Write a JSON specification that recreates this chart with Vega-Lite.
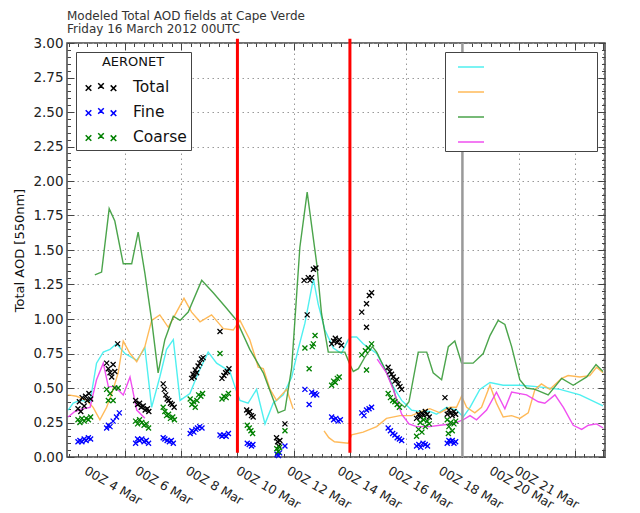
{
  "$schema": "https://vega.github.io/schema/vega-lite/v6.json",
  "description": "Modeled total AOD at Cape Verde with AERONET observations",
  "width": 538,
  "height": 414,
  "autosize": {"type": "none"},
  "padding": {"left": 67, "top": 43, "right": 35, "bottom": 56},
  "background": "white",
  "config": {
    "font": "DejaVu Sans",
    "view": {"stroke": "#444", "strokeWidth": 1.5},
    "axis": {"domain": false, "tickColor": "#444", "labelColor": "#222", "labelFont": "DejaVu Sans", "titleFont": "DejaVu Sans"}
  },
  "title": {
    "text": ["Modeled Total AOD fields at Cape Verde", "Friday 16 March 2012 00UTC"],
    "anchor": "start",
    "frame": "group",
    "fontSize": 12,
    "fontWeight": "normal",
    "lineHeight": 13.5,
    "color": "#333",
    "offset": 0
  },
  "datasets": {
    "models": [
      {"m": "Model 1", "s": "a", "d": 1.98, "v": 0.34}, {"m": "Model 1", "s": "a", "d": 2.16, "v": 0.39},
      {"m": "Model 1", "s": "a", "d": 2.4, "v": 0.41}, {"m": "Model 1", "s": "a", "d": 2.76, "v": 0.40},
      {"m": "Model 1", "s": "a", "d": 2.99, "v": 0.68}, {"m": "Model 1", "s": "a", "d": 3.23, "v": 0.76},
      {"m": "Model 1", "s": "a", "d": 3.47, "v": 0.78}, {"m": "Model 1", "s": "a", "d": 3.70, "v": 0.82},
      {"m": "Model 1", "s": "a", "d": 4.0, "v": 0.75}, {"m": "Model 1", "s": "a", "d": 4.42, "v": 0.70},
      {"m": "Model 1", "s": "a", "d": 4.71, "v": 0.79}, {"m": "Model 1", "s": "a", "d": 4.95, "v": 0.36},
      {"m": "Model 1", "s": "a", "d": 5.24, "v": 0.58}, {"m": "Model 1", "s": "a", "d": 5.48, "v": 0.78},
      {"m": "Model 1", "s": "a", "d": 5.72, "v": 0.85}, {"m": "Model 1", "s": "a", "d": 5.96, "v": 0.41},
      {"m": "Model 1", "s": "a", "d": 6.31, "v": 0.46}, {"m": "Model 1", "s": "a", "d": 6.61, "v": 0.61},
      {"m": "Model 1", "s": "a", "d": 6.96, "v": 0.76}, {"m": "Model 1", "s": "a", "d": 7.26, "v": 0.68},
      {"m": "Model 1", "s": "a", "d": 7.50, "v": 0.65}, {"m": "Model 1", "s": "a", "d": 7.73, "v": 0.62},
      {"m": "Model 1", "s": "a", "d": 7.91, "v": 0.51}, {"m": "Model 1", "s": "a", "d": 8.09, "v": 0.41},
      {"m": "Model 1", "s": "a", "d": 8.38, "v": 0.39}, {"m": "Model 1", "s": "a", "d": 8.68, "v": 0.49},
      {"m": "Model 1", "s": "a", "d": 8.98, "v": 0.24}, {"m": "Model 1", "s": "a", "d": 9.27, "v": 0.39},
      {"m": "Model 1", "s": "a", "d": 9.63, "v": 0.45}, {"m": "Model 1", "s": "a", "d": 9.93, "v": 0.58},
      {"m": "Model 1", "s": "a", "d": 10.16, "v": 0.78}, {"m": "Model 1", "s": "a", "d": 10.4, "v": 0.97},
      {"m": "Model 1", "s": "a", "d": 10.70, "v": 1.29}, {"m": "Model 1", "s": "a", "d": 10.87, "v": 1.11},
      {"m": "Model 1", "s": "a", "d": 11.11, "v": 0.92}, {"m": "Model 1", "s": "a", "d": 11.41, "v": 0.79},
      {"m": "Model 1", "s": "a", "d": 11.70, "v": 0.75}, {"m": "Model 1", "s": "a", "d": 11.94, "v": 0.85},
      {"m": "Model 1", "s": "a", "d": 12.06, "v": 0.87}, {"m": "Model 1", "s": "a", "d": 12.24, "v": 0.87},
      {"m": "Model 1", "s": "a", "d": 12.47, "v": 0.82}, {"m": "Model 1", "s": "a", "d": 12.95, "v": 0.75},
      {"m": "Model 1", "s": "a", "d": 13.24, "v": 0.64}, {"m": "Model 1", "s": "a", "d": 13.54, "v": 0.51},
      {"m": "Model 1", "s": "a", "d": 13.84, "v": 0.41}, {"m": "Model 1", "s": "a", "d": 14.19, "v": 0.34},
      {"m": "Model 1", "s": "a", "d": 14.49, "v": 0.33}, {"m": "Model 1", "s": "a", "d": 14.84, "v": 0.33},
      {"m": "Model 1", "s": "a", "d": 15.08, "v": 0.31}, {"m": "Model 1", "s": "a", "d": 15.44, "v": 0.36},
      {"m": "Model 1", "s": "a", "d": 15.79, "v": 0.34}, {"m": "Model 1", "s": "a", "d": 16.03, "v": 0.29},
      {"m": "Model 1", "s": "a", "d": 16.27, "v": 0.36}, {"m": "Model 1", "s": "a", "d": 16.62, "v": 0.49},
      {"m": "Model 1", "s": "a", "d": 16.98, "v": 0.54}, {"m": "Model 1", "s": "a", "d": 17.45, "v": 0.52},
      {"m": "Model 1", "s": "a", "d": 18.04, "v": 0.52}, {"m": "Model 1", "s": "a", "d": 18.64, "v": 0.51},
      {"m": "Model 1", "s": "a", "d": 19.47, "v": 0.49}, {"m": "Model 1", "s": "a", "d": 20.18, "v": 0.45},
      {"m": "Model 1", "s": "a", "d": 21.0, "v": 0.37},

      {"m": "Model 2", "s": "a", "d": 1.98, "v": 0.45}, {"m": "Model 2", "s": "a", "d": 2.28, "v": 0.44},
      {"m": "Model 2", "s": "a", "d": 2.64, "v": 0.41}, {"m": "Model 2", "s": "a", "d": 2.87, "v": 0.36},
      {"m": "Model 2", "s": "a", "d": 3.11, "v": 0.27}, {"m": "Model 2", "s": "a", "d": 3.35, "v": 0.36},
      {"m": "Model 2", "s": "a", "d": 3.58, "v": 0.49}, {"m": "Model 2", "s": "a", "d": 3.76, "v": 0.61},
      {"m": "Model 2", "s": "a", "d": 3.94, "v": 0.84}, {"m": "Model 2", "s": "a", "d": 4.18, "v": 0.75},
      {"m": "Model 2", "s": "a", "d": 4.42, "v": 0.69}, {"m": "Model 2", "s": "a", "d": 4.71, "v": 0.80},
      {"m": "Model 2", "s": "a", "d": 4.95, "v": 0.99}, {"m": "Model 2", "s": "a", "d": 5.24, "v": 1.03},
      {"m": "Model 2", "s": "a", "d": 5.54, "v": 0.94}, {"m": "Model 2", "s": "a", "d": 5.78, "v": 1.03},
      {"m": "Model 2", "s": "a", "d": 6.10, "v": 1.15}, {"m": "Model 2", "s": "a", "d": 6.37, "v": 1.05},
      {"m": "Model 2", "s": "a", "d": 6.67, "v": 0.98}, {"m": "Model 2", "s": "a", "d": 7.08, "v": 1.03},
      {"m": "Model 2", "s": "a", "d": 7.50, "v": 0.93}, {"m": "Model 2", "s": "a", "d": 7.85, "v": 0.92},
      {"m": "Model 2", "s": "a", "d": 8.09, "v": 0.99}, {"m": "Model 2", "s": "a", "d": 8.44, "v": 0.85},
      {"m": "Model 2", "s": "a", "d": 8.74, "v": 0.65}, {"m": "Model 2", "s": "a", "d": 8.92, "v": 0.64},
      {"m": "Model 2", "s": "a", "d": 9.16, "v": 0.49}, {"m": "Model 2", "s": "a", "d": 9.39, "v": 0.41},
      {"m": "Model 2", "s": "a", "d": 9.75, "v": 0.49}, {"m": "Model 2", "s": "a", "d": 9.98, "v": 0.35},
      {"m": "Model 2", "s": "b", "d": 11.08, "v": 0.19}, {"m": "Model 2", "s": "b", "d": 11.25, "v": 0.14},
      {"m": "Model 2", "s": "b", "d": 11.45, "v": 0.11}, {"m": "Model 2", "s": "b", "d": 11.94, "v": 0.10},
      {"m": "Model 2", "s": "b", "d": 12.06, "v": 0.16}, {"m": "Model 2", "s": "b", "d": 12.47, "v": 0.18},
      {"m": "Model 2", "s": "b", "d": 12.95, "v": 0.22}, {"m": "Model 2", "s": "b", "d": 13.30, "v": 0.28},
      {"m": "Model 2", "s": "b", "d": 13.78, "v": 0.30}, {"m": "Model 2", "s": "b", "d": 14.19, "v": 0.30},
      {"m": "Model 2", "s": "b", "d": 14.55, "v": 0.33}, {"m": "Model 2", "s": "b", "d": 14.84, "v": 0.35},
      {"m": "Model 2", "s": "b", "d": 15.2, "v": 0.32}, {"m": "Model 2", "s": "b", "d": 15.56, "v": 0.36},
      {"m": "Model 2", "s": "b", "d": 15.79, "v": 0.36}, {"m": "Model 2", "s": "b", "d": 15.97, "v": 0.44},
      {"m": "Model 2", "s": "b", "d": 16.15, "v": 0.36}, {"m": "Model 2", "s": "b", "d": 16.44, "v": 0.32},
      {"m": "Model 2", "s": "b", "d": 16.68, "v": 0.36}, {"m": "Model 2", "s": "b", "d": 16.98, "v": 0.52},
      {"m": "Model 2", "s": "b", "d": 17.21, "v": 0.39}, {"m": "Model 2", "s": "b", "d": 17.45, "v": 0.29},
      {"m": "Model 2", "s": "b", "d": 17.75, "v": 0.30}, {"m": "Model 2", "s": "b", "d": 18.04, "v": 0.28},
      {"m": "Model 2", "s": "b", "d": 18.34, "v": 0.32}, {"m": "Model 2", "s": "b", "d": 18.58, "v": 0.49},
      {"m": "Model 2", "s": "b", "d": 18.81, "v": 0.53}, {"m": "Model 2", "s": "b", "d": 19.11, "v": 0.49},
      {"m": "Model 2", "s": "b", "d": 19.53, "v": 0.57}, {"m": "Model 2", "s": "b", "d": 19.76, "v": 0.59},
      {"m": "Model 2", "s": "b", "d": 20.18, "v": 0.58}, {"m": "Model 2", "s": "b", "d": 20.53, "v": 0.59},
      {"m": "Model 2", "s": "b", "d": 20.77, "v": 0.65}, {"m": "Model 2", "s": "b", "d": 21.0, "v": 0.61},

      {"m": "Model 3", "s": "a", "d": 2.93, "v": 1.32}, {"m": "Model 3", "s": "a", "d": 3.17, "v": 1.34},
      {"m": "Model 3", "s": "a", "d": 3.44, "v": 1.80}, {"m": "Model 3", "s": "a", "d": 3.64, "v": 1.71},
      {"m": "Model 3", "s": "a", "d": 3.94, "v": 1.40}, {"m": "Model 3", "s": "a", "d": 4.24, "v": 1.40},
      {"m": "Model 3", "s": "a", "d": 4.47, "v": 1.63}, {"m": "Model 3", "s": "a", "d": 4.71, "v": 1.33},
      {"m": "Model 3", "s": "a", "d": 4.95, "v": 0.99}, {"m": "Model 3", "s": "a", "d": 5.18, "v": 0.61},
      {"m": "Model 3", "s": "a", "d": 5.42, "v": 0.85}, {"m": "Model 3", "s": "a", "d": 5.72, "v": 1.02},
      {"m": "Model 3", "s": "a", "d": 5.96, "v": 0.99}, {"m": "Model 3", "s": "a", "d": 6.25, "v": 1.05},
      {"m": "Model 3", "s": "a", "d": 6.73, "v": 1.28}, {"m": "Model 3", "s": "a", "d": 7.14, "v": 1.19},
      {"m": "Model 3", "s": "a", "d": 7.56, "v": 1.09}, {"m": "Model 3", "s": "a", "d": 7.85, "v": 1.02},
      {"m": "Model 3", "s": "a", "d": 7.97, "v": 0.99}, {"m": "Model 3", "s": "a", "d": 8.44, "v": 0.78},
      {"m": "Model 3", "s": "a", "d": 8.92, "v": 0.61}, {"m": "Model 3", "s": "a", "d": 9.45, "v": 0.32},
      {"m": "Model 3", "s": "a", "d": 9.69, "v": 0.34}, {"m": "Model 3", "s": "a", "d": 9.93, "v": 0.65},
      {"m": "Model 3", "s": "a", "d": 10.22, "v": 1.52}, {"m": "Model 3", "s": "a", "d": 10.48, "v": 1.92},
      {"m": "Model 3", "s": "a", "d": 10.82, "v": 1.40}, {"m": "Model 3", "s": "a", "d": 10.99, "v": 1.04},
      {"m": "Model 3", "s": "a", "d": 11.23, "v": 0.76}, {"m": "Model 3", "s": "a", "d": 11.82, "v": 0.76},
      {"m": "Model 3", "s": "a", "d": 12.0, "v": 0.67}, {"m": "Model 3", "s": "a", "d": 12.12, "v": 0.62},
      {"m": "Model 3", "s": "a", "d": 12.3, "v": 0.64}, {"m": "Model 3", "s": "a", "d": 12.55, "v": 0.73},
      {"m": "Model 3", "s": "a", "d": 12.8, "v": 0.80}, {"m": "Model 3", "s": "a", "d": 12.95, "v": 0.76},
      {"m": "Model 3", "s": "a", "d": 13.24, "v": 0.64}, {"m": "Model 3", "s": "a", "d": 13.54, "v": 0.50},
      {"m": "Model 3", "s": "a", "d": 13.66, "v": 0.41}, {"m": "Model 3", "s": "a", "d": 13.95, "v": 0.36},
      {"m": "Model 3", "s": "a", "d": 14.1, "v": 0.40}, {"m": "Model 3", "s": "a", "d": 14.43, "v": 0.76},
      {"m": "Model 3", "s": "a", "d": 14.73, "v": 0.76}, {"m": "Model 3", "s": "a", "d": 14.96, "v": 0.61},
      {"m": "Model 3", "s": "a", "d": 15.26, "v": 0.56}, {"m": "Model 3", "s": "a", "d": 15.5, "v": 0.80},
      {"m": "Model 3", "s": "a", "d": 15.73, "v": 0.84}, {"m": "Model 3", "s": "a", "d": 15.97, "v": 0.68},
      {"m": "Model 3", "s": "a", "d": 16.38, "v": 0.68}, {"m": "Model 3", "s": "a", "d": 16.74, "v": 0.75},
      {"m": "Model 3", "s": "a", "d": 16.98, "v": 0.88}, {"m": "Model 3", "s": "a", "d": 17.27, "v": 0.99},
      {"m": "Model 3", "s": "a", "d": 17.51, "v": 0.96}, {"m": "Model 3", "s": "a", "d": 17.75, "v": 0.80},
      {"m": "Model 3", "s": "a", "d": 18.04, "v": 0.56}, {"m": "Model 3", "s": "a", "d": 18.28, "v": 0.50},
      {"m": "Model 3", "s": "a", "d": 18.58, "v": 0.49}, {"m": "Model 3", "s": "a", "d": 19.05, "v": 0.45},
      {"m": "Model 3", "s": "a", "d": 19.53, "v": 0.57}, {"m": "Model 3", "s": "a", "d": 19.94, "v": 0.52},
      {"m": "Model 3", "s": "a", "d": 20.42, "v": 0.58}, {"m": "Model 3", "s": "a", "d": 20.75, "v": 0.67},
      {"m": "Model 3", "s": "a", "d": 21.0, "v": 0.62},

      {"m": "Model 4", "s": "a", "d": 1.98, "v": 0.29}, {"m": "Model 4", "s": "a", "d": 2.22, "v": 0.33},
      {"m": "Model 4", "s": "a", "d": 2.52, "v": 0.35}, {"m": "Model 4", "s": "a", "d": 2.76, "v": 0.36},
      {"m": "Model 4", "s": "a", "d": 2.99, "v": 0.56}, {"m": "Model 4", "s": "a", "d": 3.23, "v": 0.68},
      {"m": "Model 4", "s": "a", "d": 3.41, "v": 0.51}, {"m": "Model 4", "s": "a", "d": 3.64, "v": 0.51},
      {"m": "Model 4", "s": "a", "d": 3.94, "v": 0.45}, {"m": "Model 4", "s": "a", "d": 4.18, "v": 0.58},
      {"m": "Model 4", "s": "a", "d": 4.42, "v": 0.34}, {"m": "Model 4", "s": "a", "d": 4.71, "v": 0.28},
      {"m": "Model 4", "s": "b", "d": 12.97, "v": 0.71}, {"m": "Model 4", "s": "b", "d": 13.30, "v": 0.61},
      {"m": "Model 4", "s": "b", "d": 13.54, "v": 0.49}, {"m": "Model 4", "s": "b", "d": 13.84, "v": 0.31},
      {"m": "Model 4", "s": "b", "d": 14.1, "v": 0.24}, {"m": "Model 4", "s": "b", "d": 14.37, "v": 0.22},
      {"m": "Model 4", "s": "b", "d": 14.84, "v": 0.22}, {"m": "Model 4", "s": "b", "d": 15.2, "v": 0.23},
      {"m": "Model 4", "s": "b", "d": 15.67, "v": 0.24}, {"m": "Model 4", "s": "b", "d": 16.03, "v": 0.27},
      {"m": "Model 4", "s": "b", "d": 16.27, "v": 0.30}, {"m": "Model 4", "s": "b", "d": 16.5, "v": 0.27},
      {"m": "Model 4", "s": "b", "d": 16.86, "v": 0.34}, {"m": "Model 4", "s": "b", "d": 17.21, "v": 0.47},
      {"m": "Model 4", "s": "b", "d": 17.51, "v": 0.35}, {"m": "Model 4", "s": "b", "d": 17.75, "v": 0.47},
      {"m": "Model 4", "s": "b", "d": 18.28, "v": 0.45}, {"m": "Model 4", "s": "b", "d": 18.70, "v": 0.40},
      {"m": "Model 4", "s": "b", "d": 18.93, "v": 0.39}, {"m": "Model 4", "s": "b", "d": 19.29, "v": 0.45},
      {"m": "Model 4", "s": "b", "d": 19.59, "v": 0.36}, {"m": "Model 4", "s": "b", "d": 19.94, "v": 0.23},
      {"m": "Model 4", "s": "b", "d": 20.24, "v": 0.20}, {"m": "Model 4", "s": "b", "d": 20.48, "v": 0.23},
      {"m": "Model 4", "s": "b", "d": 20.77, "v": 0.24}, {"m": "Model 4", "s": "b", "d": 21.0, "v": 0.21}
    ],
    "aeronet": [
      {"k": "Total", "d": 2.33, "v": 0.35}, {"k": "Total", "d": 2.38, "v": 0.40}, {"k": "Total", "d": 2.43, "v": 0.33},
      {"k": "Total", "d": 2.48, "v": 0.43}, {"k": "Total", "d": 2.55, "v": 0.37}, {"k": "Total", "d": 2.60, "v": 0.44},
      {"k": "Total", "d": 2.66, "v": 0.41}, {"k": "Total", "d": 2.72, "v": 0.46}, {"k": "Total", "d": 2.78, "v": 0.42},
      {"k": "Total", "d": 3.35, "v": 0.68}, {"k": "Total", "d": 3.41, "v": 0.64}, {"k": "Total", "d": 3.47, "v": 0.61},
      {"k": "Total", "d": 3.53, "v": 0.58}, {"k": "Total", "d": 3.58, "v": 0.67}, {"k": "Total", "d": 3.64, "v": 0.62},
      {"k": "Total", "d": 3.74, "v": 0.82},
      {"k": "Total", "d": 4.38, "v": 0.41}, {"k": "Total", "d": 4.45, "v": 0.38}, {"k": "Total", "d": 4.52, "v": 0.39},
      {"k": "Total", "d": 4.58, "v": 0.36}, {"k": "Total", "d": 4.65, "v": 0.37}, {"k": "Total", "d": 4.72, "v": 0.34},
      {"k": "Total", "d": 4.80, "v": 0.35}, {"k": "Total", "d": 4.85, "v": 0.33},
      {"k": "Total", "d": 5.36, "v": 0.53}, {"k": "Total", "d": 5.40, "v": 0.49}, {"k": "Total", "d": 5.45, "v": 0.45},
      {"k": "Total", "d": 5.50, "v": 0.42}, {"k": "Total", "d": 5.56, "v": 0.41}, {"k": "Total", "d": 5.62, "v": 0.39},
      {"k": "Total", "d": 5.68, "v": 0.38}, {"k": "Total", "d": 5.75, "v": 0.36},
      {"k": "Total", "d": 6.37, "v": 0.57}, {"k": "Total", "d": 6.42, "v": 0.60}, {"k": "Total", "d": 6.46, "v": 0.58},
      {"k": "Total", "d": 6.50, "v": 0.63}, {"k": "Total", "d": 6.55, "v": 0.61}, {"k": "Total", "d": 6.60, "v": 0.66},
      {"k": "Total", "d": 6.66, "v": 0.68}, {"k": "Total", "d": 6.72, "v": 0.71}, {"k": "Total", "d": 6.78, "v": 0.72},
      {"k": "Total", "d": 7.38, "v": 0.91}, {"k": "Total", "d": 7.45, "v": 0.57}, {"k": "Total", "d": 7.52, "v": 0.59},
      {"k": "Total", "d": 7.58, "v": 0.61}, {"k": "Total", "d": 7.64, "v": 0.62}, {"k": "Total", "d": 7.70, "v": 0.64},
      {"k": "Total", "d": 8.33, "v": 0.34}, {"k": "Total", "d": 8.38, "v": 0.32}, {"k": "Total", "d": 8.44, "v": 0.33},
      {"k": "Total", "d": 8.50, "v": 0.30}, {"k": "Total", "d": 8.56, "v": 0.29},
      {"k": "Total", "d": 9.39, "v": 0.14}, {"k": "Total", "d": 9.43, "v": 0.11}, {"k": "Total", "d": 9.47, "v": 0.08},
      {"k": "Total", "d": 9.51, "v": 0.12}, {"k": "Total", "d": 9.69, "v": 0.24},
      {"k": "Total", "d": 10.37, "v": 1.28}, {"k": "Total", "d": 10.48, "v": 1.03}, {"k": "Total", "d": 10.52, "v": 1.30},
      {"k": "Total", "d": 10.58, "v": 1.28}, {"k": "Total", "d": 10.64, "v": 1.30}, {"k": "Total", "d": 10.70, "v": 1.36},
      {"k": "Total", "d": 10.79, "v": 1.37},
      {"k": "Total", "d": 11.35, "v": 0.82}, {"k": "Total", "d": 11.42, "v": 0.84}, {"k": "Total", "d": 11.48, "v": 0.86},
      {"k": "Total", "d": 11.55, "v": 0.83}, {"k": "Total", "d": 11.62, "v": 0.85}, {"k": "Total", "d": 11.70, "v": 0.81},
      {"k": "Total", "d": 12.42, "v": 1.05}, {"k": "Total", "d": 12.59, "v": 1.11}, {"k": "Total", "d": 12.69, "v": 1.17},
      {"k": "Total", "d": 12.77, "v": 1.19}, {"k": "Total", "d": 12.59, "v": 0.94},
      {"k": "Total", "d": 13.36, "v": 0.65}, {"k": "Total", "d": 13.42, "v": 0.62}, {"k": "Total", "d": 13.48, "v": 0.60},
      {"k": "Total", "d": 13.54, "v": 0.58}, {"k": "Total", "d": 13.60, "v": 0.55}, {"k": "Total", "d": 13.66, "v": 0.56},
      {"k": "Total", "d": 13.72, "v": 0.53}, {"k": "Total", "d": 13.78, "v": 0.51}, {"k": "Total", "d": 13.84, "v": 0.49},
      {"k": "Total", "d": 14.37, "v": 0.28}, {"k": "Total", "d": 14.44, "v": 0.31}, {"k": "Total", "d": 14.50, "v": 0.29},
      {"k": "Total", "d": 14.56, "v": 0.32}, {"k": "Total", "d": 14.62, "v": 0.30}, {"k": "Total", "d": 14.68, "v": 0.33},
      {"k": "Total", "d": 14.75, "v": 0.31}, {"k": "Total", "d": 14.82, "v": 0.29},
      {"k": "Total", "d": 15.38, "v": 0.43}, {"k": "Total", "d": 15.46, "v": 0.31}, {"k": "Total", "d": 15.52, "v": 0.34},
      {"k": "Total", "d": 15.58, "v": 0.32}, {"k": "Total", "d": 15.64, "v": 0.30}, {"k": "Total", "d": 15.70, "v": 0.33},
      {"k": "Total", "d": 15.76, "v": 0.31},

      {"k": "Fine", "d": 2.33, "v": 0.11}, {"k": "Fine", "d": 2.40, "v": 0.12}, {"k": "Fine", "d": 2.47, "v": 0.11},
      {"k": "Fine", "d": 2.55, "v": 0.13}, {"k": "Fine", "d": 2.62, "v": 0.12}, {"k": "Fine", "d": 2.70, "v": 0.14},
      {"k": "Fine", "d": 2.78, "v": 0.13},
      {"k": "Fine", "d": 3.35, "v": 0.21}, {"k": "Fine", "d": 3.41, "v": 0.23}, {"k": "Fine", "d": 3.47, "v": 0.22},
      {"k": "Fine", "d": 3.58, "v": 0.26}, {"k": "Fine", "d": 3.70, "v": 0.29}, {"k": "Fine", "d": 3.80, "v": 0.32},
      {"k": "Fine", "d": 4.38, "v": 0.10}, {"k": "Fine", "d": 4.45, "v": 0.13}, {"k": "Fine", "d": 4.52, "v": 0.12},
      {"k": "Fine", "d": 4.60, "v": 0.13}, {"k": "Fine", "d": 4.68, "v": 0.11}, {"k": "Fine", "d": 4.76, "v": 0.12},
      {"k": "Fine", "d": 4.84, "v": 0.10},
      {"k": "Fine", "d": 5.36, "v": 0.14}, {"k": "Fine", "d": 5.42, "v": 0.13}, {"k": "Fine", "d": 5.50, "v": 0.12},
      {"k": "Fine", "d": 5.58, "v": 0.11}, {"k": "Fine", "d": 5.65, "v": 0.12}, {"k": "Fine", "d": 5.72, "v": 0.10},
      {"k": "Fine", "d": 6.32, "v": 0.17}, {"k": "Fine", "d": 6.38, "v": 0.19}, {"k": "Fine", "d": 6.45, "v": 0.18},
      {"k": "Fine", "d": 6.52, "v": 0.20}, {"k": "Fine", "d": 6.58, "v": 0.21}, {"k": "Fine", "d": 6.66, "v": 0.22},
      {"k": "Fine", "d": 6.74, "v": 0.21},
      {"k": "Fine", "d": 7.38, "v": 0.16}, {"k": "Fine", "d": 7.45, "v": 0.15}, {"k": "Fine", "d": 7.52, "v": 0.16},
      {"k": "Fine", "d": 7.60, "v": 0.15}, {"k": "Fine", "d": 7.68, "v": 0.17},
      {"k": "Fine", "d": 8.35, "v": 0.10}, {"k": "Fine", "d": 8.42, "v": 0.09}, {"k": "Fine", "d": 8.50, "v": 0.08},
      {"k": "Fine", "d": 8.55, "v": 0.09},
      {"k": "Fine", "d": 9.41, "v": 0.02}, {"k": "Fine", "d": 9.46, "v": 0.01}, {"k": "Fine", "d": 9.50, "v": 0.03},
      {"k": "Fine", "d": 9.69, "v": 0.08},
      {"k": "Fine", "d": 10.40, "v": 0.49}, {"k": "Fine", "d": 10.55, "v": 0.38}, {"k": "Fine", "d": 10.64, "v": 0.47},
      {"k": "Fine", "d": 10.70, "v": 0.45}, {"k": "Fine", "d": 10.76, "v": 0.46}, {"k": "Fine", "d": 10.82, "v": 0.45},
      {"k": "Fine", "d": 11.35, "v": 0.29}, {"k": "Fine", "d": 11.42, "v": 0.27}, {"k": "Fine", "d": 11.50, "v": 0.28},
      {"k": "Fine", "d": 11.58, "v": 0.26}, {"k": "Fine", "d": 11.66, "v": 0.27},
      {"k": "Fine", "d": 12.42, "v": 0.32}, {"k": "Fine", "d": 12.50, "v": 0.30}, {"k": "Fine", "d": 12.59, "v": 0.34},
      {"k": "Fine", "d": 12.68, "v": 0.35}, {"k": "Fine", "d": 12.77, "v": 0.36},
      {"k": "Fine", "d": 13.36, "v": 0.21}, {"k": "Fine", "d": 13.44, "v": 0.19}, {"k": "Fine", "d": 13.52, "v": 0.17},
      {"k": "Fine", "d": 13.60, "v": 0.16}, {"k": "Fine", "d": 13.68, "v": 0.14}, {"k": "Fine", "d": 13.76, "v": 0.13},
      {"k": "Fine", "d": 13.84, "v": 0.12},
      {"k": "Fine", "d": 14.37, "v": 0.08}, {"k": "Fine", "d": 14.45, "v": 0.09}, {"k": "Fine", "d": 14.52, "v": 0.07},
      {"k": "Fine", "d": 14.60, "v": 0.10}, {"k": "Fine", "d": 14.68, "v": 0.09}, {"k": "Fine", "d": 14.76, "v": 0.08},
      {"k": "Fine", "d": 15.46, "v": 0.10}, {"k": "Fine", "d": 15.52, "v": 0.12}, {"k": "Fine", "d": 15.58, "v": 0.11},
      {"k": "Fine", "d": 15.64, "v": 0.12}, {"k": "Fine", "d": 15.70, "v": 0.10}, {"k": "Fine", "d": 15.76, "v": 0.11},

      {"k": "Coarse", "d": 2.33, "v": 0.27}, {"k": "Coarse", "d": 2.40, "v": 0.25}, {"k": "Coarse", "d": 2.47, "v": 0.28},
      {"k": "Coarse", "d": 2.55, "v": 0.26}, {"k": "Coarse", "d": 2.62, "v": 0.28}, {"k": "Coarse", "d": 2.70, "v": 0.27},
      {"k": "Coarse", "d": 2.78, "v": 0.29},
      {"k": "Coarse", "d": 3.35, "v": 0.49}, {"k": "Coarse", "d": 3.41, "v": 0.41}, {"k": "Coarse", "d": 3.47, "v": 0.46},
      {"k": "Coarse", "d": 3.58, "v": 0.41}, {"k": "Coarse", "d": 3.64, "v": 0.50}, {"k": "Coarse", "d": 3.76, "v": 0.50},
      {"k": "Coarse", "d": 4.38, "v": 0.26}, {"k": "Coarse", "d": 4.45, "v": 0.24}, {"k": "Coarse", "d": 4.52, "v": 0.27},
      {"k": "Coarse", "d": 4.60, "v": 0.25}, {"k": "Coarse", "d": 4.68, "v": 0.23}, {"k": "Coarse", "d": 4.76, "v": 0.24},
      {"k": "Coarse", "d": 4.84, "v": 0.21},
      {"k": "Coarse", "d": 5.36, "v": 0.36}, {"k": "Coarse", "d": 5.42, "v": 0.33}, {"k": "Coarse", "d": 5.48, "v": 0.30},
      {"k": "Coarse", "d": 5.55, "v": 0.31}, {"k": "Coarse", "d": 5.62, "v": 0.28}, {"k": "Coarse", "d": 5.70, "v": 0.29},
      {"k": "Coarse", "d": 5.76, "v": 0.27},
      {"k": "Coarse", "d": 6.32, "v": 0.42}, {"k": "Coarse", "d": 6.38, "v": 0.38}, {"k": "Coarse", "d": 6.44, "v": 0.40},
      {"k": "Coarse", "d": 6.50, "v": 0.36}, {"k": "Coarse", "d": 6.56, "v": 0.41}, {"k": "Coarse", "d": 6.62, "v": 0.45},
      {"k": "Coarse", "d": 6.70, "v": 0.44}, {"k": "Coarse", "d": 6.76, "v": 0.46},
      {"k": "Coarse", "d": 7.38, "v": 0.75}, {"k": "Coarse", "d": 7.45, "v": 0.42}, {"k": "Coarse", "d": 7.52, "v": 0.44},
      {"k": "Coarse", "d": 7.60, "v": 0.43}, {"k": "Coarse", "d": 7.68, "v": 0.46},
      {"k": "Coarse", "d": 8.35, "v": 0.23}, {"k": "Coarse", "d": 8.42, "v": 0.21}, {"k": "Coarse", "d": 8.48, "v": 0.19},
      {"k": "Coarse", "d": 8.54, "v": 0.17},
      {"k": "Coarse", "d": 9.40, "v": 0.06}, {"k": "Coarse", "d": 9.45, "v": 0.04}, {"k": "Coarse", "d": 9.50, "v": 0.07},
      {"k": "Coarse", "d": 9.69, "v": 0.19},
      {"k": "Coarse", "d": 10.40, "v": 0.79}, {"k": "Coarse", "d": 10.55, "v": 0.64}, {"k": "Coarse", "d": 10.66, "v": 0.80},
      {"k": "Coarse", "d": 10.70, "v": 0.82}, {"k": "Coarse", "d": 10.76, "v": 0.88},
      {"k": "Coarse", "d": 11.35, "v": 0.52}, {"k": "Coarse", "d": 11.42, "v": 0.55}, {"k": "Coarse", "d": 11.48, "v": 0.54},
      {"k": "Coarse", "d": 11.55, "v": 0.57}, {"k": "Coarse", "d": 11.62, "v": 0.58},
      {"k": "Coarse", "d": 12.42, "v": 0.74}, {"k": "Coarse", "d": 12.55, "v": 0.77}, {"k": "Coarse", "d": 12.65, "v": 0.79},
      {"k": "Coarse", "d": 12.77, "v": 0.82}, {"k": "Coarse", "d": 12.59, "v": 0.63},
      {"k": "Coarse", "d": 13.36, "v": 0.46}, {"k": "Coarse", "d": 13.44, "v": 0.43}, {"k": "Coarse", "d": 13.52, "v": 0.41},
      {"k": "Coarse", "d": 13.60, "v": 0.40}, {"k": "Coarse", "d": 13.68, "v": 0.38}, {"k": "Coarse", "d": 13.76, "v": 0.36},
      {"k": "Coarse", "d": 14.37, "v": 0.15}, {"k": "Coarse", "d": 14.44, "v": 0.20}, {"k": "Coarse", "d": 14.50, "v": 0.25},
      {"k": "Coarse", "d": 14.56, "v": 0.18}, {"k": "Coarse", "d": 14.62, "v": 0.27}, {"k": "Coarse", "d": 14.68, "v": 0.22},
      {"k": "Coarse", "d": 14.75, "v": 0.26}, {"k": "Coarse", "d": 14.82, "v": 0.24},
      {"k": "Coarse", "d": 15.46, "v": 0.27}, {"k": "Coarse", "d": 15.50, "v": 0.17}, {"k": "Coarse", "d": 15.52, "v": 0.22},
      {"k": "Coarse", "d": 15.58, "v": 0.25}, {"k": "Coarse", "d": 15.64, "v": 0.19}, {"k": "Coarse", "d": 15.70, "v": 0.24},
      {"k": "Coarse", "d": 15.76, "v": 0.26}
    ],
    "cases": [
      {"d": 8, "lo": 0.03, "hi": 3.03},
      {"d": 12, "lo": 0.03, "hi": 3.03}
    ],
    "now": [
      {"d": 16, "lo": 0, "hi": 3}
    ]
  },
  "layer": [
    {
      "data": {"name": "models"},
      "mark": {"type": "line", "strokeWidth": 1.4, "opacity": 0.9},
      "encoding": {
        "x": {
          "field": "d", "type": "quantitative",
          "scale": {"domain": [1.94, 21.07], "nice": false, "zero": false},
          "axis": {
            "orient": "bottom", "title": null,
            "values": [4, 6, 8, 10, 12, 14, 16, 18, 20, 21],
            "labelExpr": "'00Z ' + datum.value + ' Mar'",
            "labelAngle": 30, "labelAlign": "left", "labelBaseline": "top",
            "labelFontSize": 12.5, "labelPadding": 14, "labelOverlap": false, "labelFlush": false, "labelBound": false,
            "labelOffset": {"expr": "-(37 + 2.8125 * (datum.value - 4))"},
            "tickSize": -7, "tickWidth": 1,
            "grid": true, "gridDash": [1.5, 3.5], "gridColor": "#999", "gridWidth": 1
          }
        },
        "y": {
          "field": "v", "type": "quantitative",
          "scale": {"domain": [0, 3], "nice": false, "zero": false},
          "axis": {
            "orient": "left",
            "values": [0, 0.25, 0.5, 0.75, 1, 1.25, 1.5, 1.75, 2, 2.25, 2.5, 2.75, 3],
            "format": ".2f", "labelFontSize": 13.5, "labelPadding": 11,
            "tickSize": -7, "tickWidth": 1,
            "grid": true, "gridDash": [1.5, 3.5], "gridColor": "#999", "gridWidth": 1,
            "title": "Total AOD [550nm]", "titleFontSize": 13, "titleFontWeight": "normal", "titleColor": "#111", "titlePadding": 6
          }
        },
        "color": {
          "field": "m", "type": "nominal",
          "scale": {"domain": ["Model 1", "Model 2", "Model 3", "Model 4"], "range": ["#3ceeee", "#ffb347", "#379a37", "#ee3cee"]},
          "legend": {
            "orient": "none", "legendX": 378, "legendY": 9, "title": null,
            "labelExpr": "''", "labelOffset": 111,
            "padding": 4, "strokeColor": "#444", "fillColor": "white",
            "symbolType": "M-1.3,0L1.3,0", "symbolSize": 400, "symbolStrokeWidth": 1.5, "symbolOffset": 11, "rowPadding": 9,
            "encode": {"legend": {"strokeWidth": {"value": 1.5}}}
          }
        },
        "detail": {"field": "s"}
      }
    },
    {
      "data": {"name": "aeronet"},
      "mark": {"type": "point", "shape": "M-1,-1L1,1M-1,1L1,-1", "filled": false, "size": 25, "strokeWidth": 1.3, "opacity": 1},
      "encoding": {
        "x": {
          "field": "d", "type": "quantitative",
          "scale": {"domain": [1.94, 21.07], "nice": false, "zero": false},
          "axis": {"orient": "top", "title": null, "labels": false, "grid": false, "values": [4, 6, 8, 10, 12, 14, 16, 18, 20, 21], "tickSize": -7, "tickWidth": 1}
        },
        "y": {
          "field": "v", "type": "quantitative",
          "scale": {"domain": [0, 3], "nice": false, "zero": false},
          "axis": {"orient": "right", "title": null, "labels": false, "grid": false, "values": [0, 0.25, 0.5, 0.75, 1, 1.25, 1.5, 1.75, 2, 2.25, 2.5, 2.75, 3], "tickSize": -7, "tickWidth": 1}
        },
        "color": {
          "field": "k", "type": "nominal",
          "scale": {"domain": ["Total", "Fine", "Coarse"], "range": ["#000000", "#0000ff", "#008000"]},
          "legend": {
            "orient": "none", "legendX": 9, "legendY": 9,
            "title": "AERONET", "titleFontSize": 13, "titleFontWeight": "normal", "titleColor": "#111", "titleAnchor": "middle", "titlePadding": 7,
            "labelFontSize": 15.5, "labelColor": "#111", "labelOffset": 21,
            "labelExpr": "datum.label + '\u2002\u2009'",
            "padding": 4, "strokeColor": "#444", "fillColor": "white",
            "symbolType": "M-1.53,-0.18L-0.97,0.38M-1.53,0.38L-0.97,-0.18M-0.28,-0.38L0.28,0.18M-0.28,0.18L0.28,-0.38M0.97,-0.16L1.53,0.4M0.97,0.4L1.53,-0.16",
            "symbolSize": 400, "symbolStrokeWidth": 1.5, "symbolOffset": 10, "rowPadding": 5,
            "encode": {"legend": {"strokeWidth": {"value": 1.5}}}
          }
        }
      }
    },
    {
      "data": {"name": "cases"},
      "mark": {"type": "rule", "color": "#ff0000", "strokeWidth": 3},
      "encoding": {
        "x": {
          "field": "d", "type": "quantitative",
          "scale": {"domain": [1.94, 21.07], "nice": false, "zero": false},
          "axis": {"orient": "bottom", "title": null, "labels": false, "grid": false, "tickSize": -3.5, "tickWidth": 1,
            "values": [2, 2.333, 2.667, 3, 3.333, 3.667, 4, 4.333, 4.667, 5, 5.333, 5.667, 6, 6.333, 6.667, 7, 7.333, 7.667, 8, 8.333, 8.667, 9, 9.333, 9.667, 10, 10.333, 10.667, 11, 11.333, 11.667, 12, 12.333, 12.667, 13, 13.333, 13.667, 14, 14.333, 14.667, 15, 15.333, 15.667, 16, 16.333, 16.667, 17, 17.333, 17.667, 18, 18.333, 18.667, 19, 19.333, 19.667, 20, 20.333, 20.667, 21]}
        },
        "y": {
          "field": "lo", "type": "quantitative",
          "scale": {"domain": [0, 3], "nice": false, "zero": false},
          "axis": {"orient": "left", "title": null, "labels": false, "grid": false, "tickSize": -3.5, "tickWidth": 1,
            "values": [0, 0.05, 0.1, 0.15, 0.2, 0.25, 0.3, 0.35, 0.4, 0.45, 0.5, 0.55, 0.6, 0.65, 0.7, 0.75, 0.8, 0.85, 0.9, 0.95, 1, 1.05, 1.1, 1.15, 1.2, 1.25, 1.3, 1.35, 1.4, 1.45, 1.5, 1.55, 1.6, 1.65, 1.7, 1.75, 1.8, 1.85, 1.9, 1.95, 2, 2.05, 2.1, 2.15, 2.2, 2.25, 2.3, 2.35, 2.4, 2.45, 2.5, 2.55, 2.6, 2.65, 2.7, 2.75, 2.8, 2.85, 2.9, 2.95, 3]}
        },
        "y2": {"field": "hi"}
      }
    },
    {
      "data": {"name": "now"},
      "mark": {"type": "rule", "color": "#999999", "strokeWidth": 2.5},
      "encoding": {
        "x": {
          "field": "d", "type": "quantitative",
          "scale": {"domain": [1.94, 21.07], "nice": false, "zero": false},
          "axis": {"orient": "top", "title": null, "labels": false, "grid": false, "tickSize": -3.5, "tickWidth": 1,
            "values": [2, 2.333, 2.667, 3, 3.333, 3.667, 4, 4.333, 4.667, 5, 5.333, 5.667, 6, 6.333, 6.667, 7, 7.333, 7.667, 8, 8.333, 8.667, 9, 9.333, 9.667, 10, 10.333, 10.667, 11, 11.333, 11.667, 12, 12.333, 12.667, 13, 13.333, 13.667, 14, 14.333, 14.667, 15, 15.333, 15.667, 16, 16.333, 16.667, 17, 17.333, 17.667, 18, 18.333, 18.667, 19, 19.333, 19.667, 20, 20.333, 20.667, 21]}
        },
        "y": {
          "field": "lo", "type": "quantitative",
          "scale": {"domain": [0, 3], "nice": false, "zero": false},
          "axis": {"orient": "right", "title": null, "labels": false, "grid": false, "tickSize": -3.5, "tickWidth": 1,
            "values": [0, 0.05, 0.1, 0.15, 0.2, 0.25, 0.3, 0.35, 0.4, 0.45, 0.5, 0.55, 0.6, 0.65, 0.7, 0.75, 0.8, 0.85, 0.9, 0.95, 1, 1.05, 1.1, 1.15, 1.2, 1.25, 1.3, 1.35, 1.4, 1.45, 1.5, 1.55, 1.6, 1.65, 1.7, 1.75, 1.8, 1.85, 1.9, 1.95, 2, 2.05, 2.1, 2.15, 2.2, 2.25, 2.3, 2.35, 2.4, 2.45, 2.5, 2.55, 2.6, 2.65, 2.7, 2.75, 2.8, 2.85, 2.9, 2.95, 3]}
        },
        "y2": {"field": "hi"}
      }
    }
  ],
  "resolve": {
    "scale": {"color": "independent"},
    "axis": {"x": "independent", "y": "independent"}
  }
}
